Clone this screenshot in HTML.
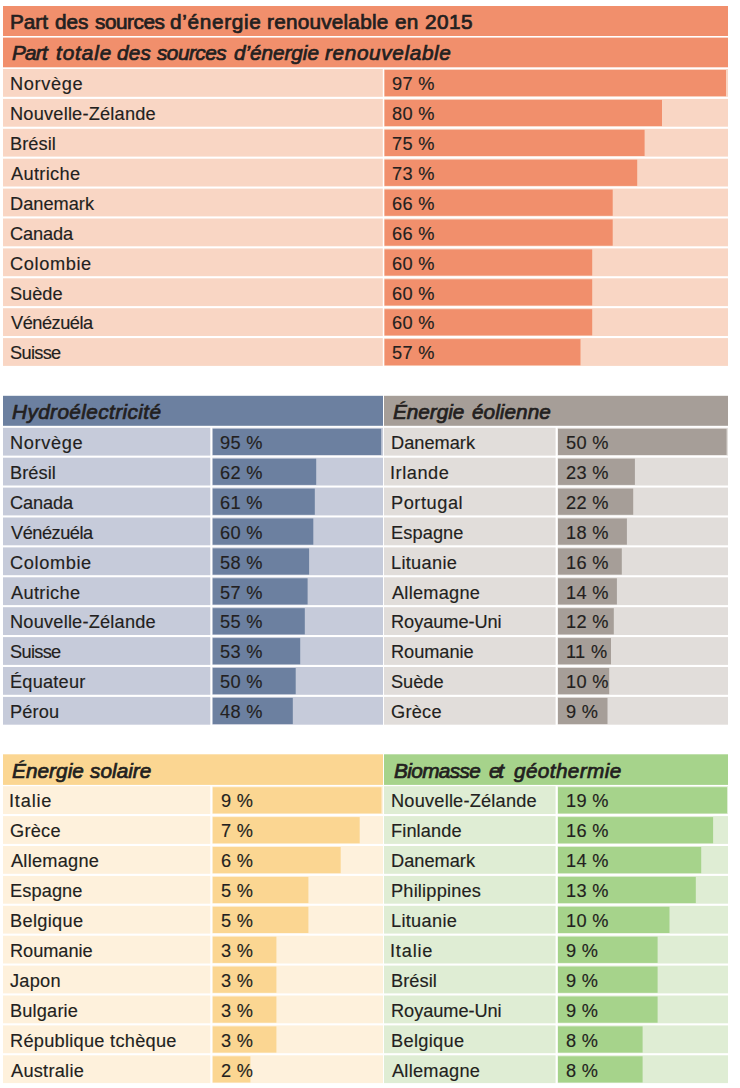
<!DOCTYPE html>
<html><head><meta charset="utf-8"><style>
html,body{margin:0;padding:0;background:#fff;width:740px;height:1088px;overflow:hidden}
body{position:relative;font-family:"Liberation Sans",sans-serif;color:#231F20}
div{position:absolute}
span{position:absolute;white-space:pre;line-height:0;height:0}
.h1{font-size:19.6px;-webkit-text-stroke:0.7px #231F20;transform:scaleX(1.06);transform-origin:0 0}
.h2{font-size:19.6px;font-style:italic;-webkit-text-stroke:0.7px #231F20;transform:scaleX(1.06);transform-origin:0 0}
.t{font-size:17.5px;-webkit-text-stroke:0.15px #231F20;transform:scaleX(1.04);transform-origin:0 0}
</style></head><body>
<svg width="740" height="1088" style="position:absolute;left:0;top:0">
<rect x="3.00" y="6.00" width="725.00" height="30.00" fill="#F18F6C"/>
<rect x="3.00" y="37.60" width="725.00" height="29.70" fill="#F18F6C"/>
<rect x="3.00" y="69.00" width="379.80" height="27.80" fill="#F9D6C4"/>
<rect x="384.20" y="69.00" width="343.80" height="27.80" fill="#F9D6C4"/>
<rect x="384.50" y="70.00" width="341.50" height="26.20" fill="#F18F6C"/>
<rect x="3.00" y="98.90" width="379.80" height="27.80" fill="#F9D6C4"/>
<rect x="384.20" y="98.90" width="343.80" height="27.80" fill="#F9D6C4"/>
<rect x="384.50" y="99.90" width="277.50" height="26.20" fill="#F18F6C"/>
<rect x="3.00" y="128.80" width="379.80" height="27.80" fill="#F9D6C4"/>
<rect x="384.20" y="128.80" width="343.80" height="27.80" fill="#F9D6C4"/>
<rect x="384.50" y="129.80" width="260.10" height="26.20" fill="#F18F6C"/>
<rect x="3.00" y="158.70" width="379.80" height="27.80" fill="#F9D6C4"/>
<rect x="384.20" y="158.70" width="343.80" height="27.80" fill="#F9D6C4"/>
<rect x="384.50" y="159.70" width="252.70" height="26.20" fill="#F18F6C"/>
<rect x="3.00" y="188.60" width="379.80" height="27.80" fill="#F9D6C4"/>
<rect x="384.20" y="188.60" width="343.80" height="27.80" fill="#F9D6C4"/>
<rect x="384.50" y="189.60" width="228.20" height="26.20" fill="#F18F6C"/>
<rect x="3.00" y="218.50" width="379.80" height="27.80" fill="#F9D6C4"/>
<rect x="384.20" y="218.50" width="343.80" height="27.80" fill="#F9D6C4"/>
<rect x="384.50" y="219.50" width="228.20" height="26.20" fill="#F18F6C"/>
<rect x="3.00" y="248.40" width="379.80" height="27.80" fill="#F9D6C4"/>
<rect x="384.20" y="248.40" width="343.80" height="27.80" fill="#F9D6C4"/>
<rect x="384.50" y="249.40" width="207.70" height="26.20" fill="#F18F6C"/>
<rect x="3.00" y="278.30" width="379.80" height="27.80" fill="#F9D6C4"/>
<rect x="384.20" y="278.30" width="343.80" height="27.80" fill="#F9D6C4"/>
<rect x="384.50" y="279.30" width="207.70" height="26.20" fill="#F18F6C"/>
<rect x="3.00" y="308.20" width="379.80" height="27.80" fill="#F9D6C4"/>
<rect x="384.20" y="308.20" width="343.80" height="27.80" fill="#F9D6C4"/>
<rect x="384.50" y="309.20" width="207.70" height="26.20" fill="#F18F6C"/>
<rect x="3.00" y="338.10" width="379.80" height="27.80" fill="#F9D6C4"/>
<rect x="384.20" y="338.10" width="343.80" height="27.80" fill="#F9D6C4"/>
<rect x="384.50" y="339.10" width="196.00" height="26.20" fill="#F18F6C"/>
<rect x="3.00" y="395.80" width="380.00" height="30.00" fill="#6C80A0"/>
<rect x="3.00" y="427.80" width="207.30" height="27.80" fill="#C6CBDA"/>
<rect x="212.30" y="427.80" width="170.70" height="27.80" fill="#C6CBDA"/>
<rect x="212.70" y="428.80" width="168.50" height="26.20" fill="#6C80A0"/>
<rect x="3.00" y="457.70" width="207.30" height="27.80" fill="#C6CBDA"/>
<rect x="212.30" y="457.70" width="170.70" height="27.80" fill="#C6CBDA"/>
<rect x="212.70" y="458.70" width="103.50" height="26.20" fill="#6C80A0"/>
<rect x="3.00" y="487.60" width="207.30" height="27.80" fill="#C6CBDA"/>
<rect x="212.30" y="487.60" width="170.70" height="27.80" fill="#C6CBDA"/>
<rect x="212.70" y="488.60" width="102.10" height="26.20" fill="#6C80A0"/>
<rect x="3.00" y="517.50" width="207.30" height="27.80" fill="#C6CBDA"/>
<rect x="212.30" y="517.50" width="170.70" height="27.80" fill="#C6CBDA"/>
<rect x="212.70" y="518.50" width="100.60" height="26.20" fill="#6C80A0"/>
<rect x="3.00" y="547.40" width="207.30" height="27.80" fill="#C6CBDA"/>
<rect x="212.30" y="547.40" width="170.70" height="27.80" fill="#C6CBDA"/>
<rect x="212.70" y="548.40" width="96.40" height="26.20" fill="#6C80A0"/>
<rect x="3.00" y="577.30" width="207.30" height="27.80" fill="#C6CBDA"/>
<rect x="212.30" y="577.30" width="170.70" height="27.80" fill="#C6CBDA"/>
<rect x="212.70" y="578.30" width="94.90" height="26.20" fill="#6C80A0"/>
<rect x="3.00" y="607.20" width="207.30" height="27.80" fill="#C6CBDA"/>
<rect x="212.30" y="607.20" width="170.70" height="27.80" fill="#C6CBDA"/>
<rect x="212.70" y="608.20" width="92.10" height="26.20" fill="#6C80A0"/>
<rect x="3.00" y="637.10" width="207.30" height="27.80" fill="#C6CBDA"/>
<rect x="212.30" y="637.10" width="170.70" height="27.80" fill="#C6CBDA"/>
<rect x="212.70" y="638.10" width="87.50" height="26.20" fill="#6C80A0"/>
<rect x="3.00" y="667.00" width="207.30" height="27.80" fill="#C6CBDA"/>
<rect x="212.30" y="667.00" width="170.70" height="27.80" fill="#C6CBDA"/>
<rect x="212.70" y="668.00" width="83.00" height="26.20" fill="#6C80A0"/>
<rect x="3.00" y="696.90" width="207.30" height="27.80" fill="#C6CBDA"/>
<rect x="212.30" y="696.90" width="170.70" height="27.80" fill="#C6CBDA"/>
<rect x="212.70" y="697.90" width="80.10" height="26.20" fill="#6C80A0"/>
<rect x="384.00" y="395.80" width="344.00" height="30.00" fill="#A69E98"/>
<rect x="384.00" y="427.80" width="171.60" height="27.80" fill="#E1DDDA"/>
<rect x="557.60" y="427.80" width="170.40" height="27.80" fill="#E1DDDA"/>
<rect x="558.00" y="428.80" width="168.60" height="26.20" fill="#A69E98"/>
<rect x="384.00" y="457.70" width="171.60" height="27.80" fill="#E1DDDA"/>
<rect x="557.60" y="457.70" width="170.40" height="27.80" fill="#E1DDDA"/>
<rect x="558.00" y="458.70" width="76.90" height="26.20" fill="#A69E98"/>
<rect x="384.00" y="487.60" width="171.60" height="27.80" fill="#E1DDDA"/>
<rect x="557.60" y="487.60" width="170.40" height="27.80" fill="#E1DDDA"/>
<rect x="558.00" y="488.60" width="75.20" height="26.20" fill="#A69E98"/>
<rect x="384.00" y="517.50" width="171.60" height="27.80" fill="#E1DDDA"/>
<rect x="557.60" y="517.50" width="170.40" height="27.80" fill="#E1DDDA"/>
<rect x="558.00" y="518.50" width="68.90" height="26.20" fill="#A69E98"/>
<rect x="384.00" y="547.40" width="171.60" height="27.80" fill="#E1DDDA"/>
<rect x="557.60" y="547.40" width="170.40" height="27.80" fill="#E1DDDA"/>
<rect x="558.00" y="548.40" width="63.80" height="26.20" fill="#A69E98"/>
<rect x="384.00" y="577.30" width="171.60" height="27.80" fill="#E1DDDA"/>
<rect x="557.60" y="577.30" width="170.40" height="27.80" fill="#E1DDDA"/>
<rect x="558.00" y="578.30" width="58.90" height="26.20" fill="#A69E98"/>
<rect x="384.00" y="607.20" width="171.60" height="27.80" fill="#E1DDDA"/>
<rect x="557.60" y="607.20" width="170.40" height="27.80" fill="#E1DDDA"/>
<rect x="558.00" y="608.20" width="55.80" height="26.20" fill="#A69E98"/>
<rect x="384.00" y="637.10" width="171.60" height="27.80" fill="#E1DDDA"/>
<rect x="557.60" y="637.10" width="170.40" height="27.80" fill="#E1DDDA"/>
<rect x="558.00" y="638.10" width="53.00" height="26.20" fill="#A69E98"/>
<rect x="384.00" y="667.00" width="171.60" height="27.80" fill="#E1DDDA"/>
<rect x="557.60" y="667.00" width="170.40" height="27.80" fill="#E1DDDA"/>
<rect x="558.00" y="668.00" width="51.20" height="26.20" fill="#A69E98"/>
<rect x="384.00" y="696.90" width="171.60" height="27.80" fill="#E1DDDA"/>
<rect x="557.60" y="696.90" width="170.40" height="27.80" fill="#E1DDDA"/>
<rect x="558.00" y="697.90" width="49.50" height="26.20" fill="#A69E98"/>
<rect x="3.00" y="754.30" width="380.00" height="30.60" fill="#FBD692"/>
<rect x="3.00" y="786.20" width="207.30" height="27.80" fill="#FEF1DC"/>
<rect x="212.30" y="786.20" width="170.70" height="27.80" fill="#FEF1DC"/>
<rect x="212.70" y="787.20" width="168.80" height="26.20" fill="#FBD692"/>
<rect x="3.00" y="816.10" width="207.30" height="27.80" fill="#FEF1DC"/>
<rect x="212.30" y="816.10" width="170.70" height="27.80" fill="#FEF1DC"/>
<rect x="212.70" y="817.10" width="147.00" height="26.20" fill="#FBD692"/>
<rect x="3.00" y="846.00" width="207.30" height="27.80" fill="#FEF1DC"/>
<rect x="212.30" y="846.00" width="170.70" height="27.80" fill="#FEF1DC"/>
<rect x="212.70" y="847.00" width="128.00" height="26.20" fill="#FBD692"/>
<rect x="3.00" y="875.90" width="207.30" height="27.80" fill="#FEF1DC"/>
<rect x="212.30" y="875.90" width="170.70" height="27.80" fill="#FEF1DC"/>
<rect x="212.70" y="876.90" width="95.70" height="26.20" fill="#FBD692"/>
<rect x="3.00" y="905.80" width="207.30" height="27.80" fill="#FEF1DC"/>
<rect x="212.30" y="905.80" width="170.70" height="27.80" fill="#FEF1DC"/>
<rect x="212.70" y="906.80" width="95.70" height="26.20" fill="#FBD692"/>
<rect x="3.00" y="935.70" width="207.30" height="27.80" fill="#FEF1DC"/>
<rect x="212.30" y="935.70" width="170.70" height="27.80" fill="#FEF1DC"/>
<rect x="212.70" y="936.70" width="63.70" height="26.20" fill="#FBD692"/>
<rect x="3.00" y="965.60" width="207.30" height="27.80" fill="#FEF1DC"/>
<rect x="212.30" y="965.60" width="170.70" height="27.80" fill="#FEF1DC"/>
<rect x="212.70" y="966.60" width="63.70" height="26.20" fill="#FBD692"/>
<rect x="3.00" y="995.50" width="207.30" height="27.80" fill="#FEF1DC"/>
<rect x="212.30" y="995.50" width="170.70" height="27.80" fill="#FEF1DC"/>
<rect x="212.70" y="996.50" width="63.70" height="26.20" fill="#FBD692"/>
<rect x="3.00" y="1025.40" width="207.30" height="27.80" fill="#FEF1DC"/>
<rect x="212.30" y="1025.40" width="170.70" height="27.80" fill="#FEF1DC"/>
<rect x="212.70" y="1026.40" width="63.70" height="26.20" fill="#FBD692"/>
<rect x="3.00" y="1055.30" width="207.30" height="27.80" fill="#FEF1DC"/>
<rect x="212.30" y="1055.30" width="170.70" height="27.80" fill="#FEF1DC"/>
<rect x="212.70" y="1056.30" width="37.70" height="26.20" fill="#FBD692"/>
<rect x="384.00" y="754.30" width="344.00" height="30.60" fill="#A6D38B"/>
<rect x="384.00" y="786.20" width="171.60" height="27.80" fill="#DFEDD4"/>
<rect x="557.60" y="786.20" width="170.40" height="27.80" fill="#DFEDD4"/>
<rect x="558.00" y="787.20" width="169.00" height="26.20" fill="#A6D38B"/>
<rect x="384.00" y="816.10" width="171.60" height="27.80" fill="#DFEDD4"/>
<rect x="557.60" y="816.10" width="170.40" height="27.80" fill="#DFEDD4"/>
<rect x="558.00" y="817.10" width="155.10" height="26.20" fill="#A6D38B"/>
<rect x="384.00" y="846.00" width="171.60" height="27.80" fill="#DFEDD4"/>
<rect x="557.60" y="846.00" width="170.40" height="27.80" fill="#DFEDD4"/>
<rect x="558.00" y="847.00" width="143.20" height="26.20" fill="#A6D38B"/>
<rect x="384.00" y="875.90" width="171.60" height="27.80" fill="#DFEDD4"/>
<rect x="557.60" y="875.90" width="170.40" height="27.80" fill="#DFEDD4"/>
<rect x="558.00" y="876.90" width="137.80" height="26.20" fill="#A6D38B"/>
<rect x="384.00" y="905.80" width="171.60" height="27.80" fill="#DFEDD4"/>
<rect x="557.60" y="905.80" width="170.40" height="27.80" fill="#DFEDD4"/>
<rect x="558.00" y="906.80" width="111.50" height="26.20" fill="#A6D38B"/>
<rect x="384.00" y="935.70" width="171.60" height="27.80" fill="#DFEDD4"/>
<rect x="557.60" y="935.70" width="170.40" height="27.80" fill="#DFEDD4"/>
<rect x="558.00" y="936.70" width="99.60" height="26.20" fill="#A6D38B"/>
<rect x="384.00" y="965.60" width="171.60" height="27.80" fill="#DFEDD4"/>
<rect x="557.60" y="965.60" width="170.40" height="27.80" fill="#DFEDD4"/>
<rect x="558.00" y="966.60" width="99.60" height="26.20" fill="#A6D38B"/>
<rect x="384.00" y="995.50" width="171.60" height="27.80" fill="#DFEDD4"/>
<rect x="557.60" y="995.50" width="170.40" height="27.80" fill="#DFEDD4"/>
<rect x="558.00" y="996.50" width="99.60" height="26.20" fill="#A6D38B"/>
<rect x="384.00" y="1025.40" width="171.60" height="27.80" fill="#DFEDD4"/>
<rect x="557.60" y="1025.40" width="170.40" height="27.80" fill="#DFEDD4"/>
<rect x="558.00" y="1026.40" width="84.60" height="26.20" fill="#A6D38B"/>
<rect x="384.00" y="1055.30" width="171.60" height="27.80" fill="#DFEDD4"/>
<rect x="557.60" y="1055.30" width="170.40" height="27.80" fill="#DFEDD4"/>
<rect x="558.00" y="1056.30" width="84.60" height="26.20" fill="#A6D38B"/>
</svg>
<span class="t" style="left:10.26px;top:84.24px;letter-spacing:0.609px">Norvège</span>
<span class="t" style="left:391.80px;top:84.24px;letter-spacing:0.3px">97 %</span>
<span class="t" style="left:10.26px;top:114.14px;letter-spacing:0.196px">Nouvelle-Zélande</span>
<span class="t" style="left:391.80px;top:114.14px;letter-spacing:0.3px">80 %</span>
<span class="t" style="left:10.26px;top:144.04px;letter-spacing:0.052px">Brésil</span>
<span class="t" style="left:391.80px;top:144.04px;letter-spacing:0.3px">75 %</span>
<span class="t" style="left:11.30px;top:173.94px;letter-spacing:0.321px">Autriche</span>
<span class="t" style="left:391.80px;top:173.94px;letter-spacing:0.3px">73 %</span>
<span class="t" style="left:10.26px;top:203.84px;letter-spacing:0.007px">Danemark</span>
<span class="t" style="left:391.80px;top:203.84px;letter-spacing:0.3px">66 %</span>
<span class="t" style="left:10.26px;top:233.74px;letter-spacing:-0.115px">Canada</span>
<span class="t" style="left:391.80px;top:233.74px;letter-spacing:0.3px">66 %</span>
<span class="t" style="left:10.26px;top:263.64px;letter-spacing:0.593px">Colombie</span>
<span class="t" style="left:391.80px;top:263.64px;letter-spacing:0.3px">60 %</span>
<span class="t" style="left:10.26px;top:293.54px;letter-spacing:-0.026px">Suède</span>
<span class="t" style="left:391.80px;top:293.54px;letter-spacing:0.3px">60 %</span>
<span class="t" style="left:11.30px;top:323.44px;letter-spacing:-0.459px">Vénézuéla</span>
<span class="t" style="left:391.80px;top:323.44px;letter-spacing:0.3px">60 %</span>
<span class="t" style="left:10.26px;top:353.34px;letter-spacing:-0.662px">Suisse</span>
<span class="t" style="left:391.80px;top:353.34px;letter-spacing:0.3px">57 %</span>
<span class="t" style="left:10.16px;top:443.04px;letter-spacing:0.609px">Norvège</span>
<span class="t" style="left:220.40px;top:443.04px;letter-spacing:0.3px">95 %</span>
<span class="t" style="left:10.16px;top:472.94px;letter-spacing:0.052px">Brésil</span>
<span class="t" style="left:220.40px;top:472.94px;letter-spacing:0.3px">62 %</span>
<span class="t" style="left:10.16px;top:502.84px;letter-spacing:-0.115px">Canada</span>
<span class="t" style="left:220.40px;top:502.84px;letter-spacing:0.3px">61 %</span>
<span class="t" style="left:11.20px;top:532.74px;letter-spacing:-0.459px">Vénézuéla</span>
<span class="t" style="left:220.40px;top:532.74px;letter-spacing:0.3px">60 %</span>
<span class="t" style="left:10.16px;top:562.64px;letter-spacing:0.593px">Colombie</span>
<span class="t" style="left:220.40px;top:562.64px;letter-spacing:0.3px">58 %</span>
<span class="t" style="left:11.20px;top:592.54px;letter-spacing:0.321px">Autriche</span>
<span class="t" style="left:220.40px;top:592.54px;letter-spacing:0.3px">57 %</span>
<span class="t" style="left:10.16px;top:622.44px;letter-spacing:0.196px">Nouvelle-Zélande</span>
<span class="t" style="left:220.40px;top:622.44px;letter-spacing:0.3px">55 %</span>
<span class="t" style="left:10.16px;top:652.34px;letter-spacing:-0.662px">Suisse</span>
<span class="t" style="left:220.40px;top:652.34px;letter-spacing:0.3px">53 %</span>
<span class="t" style="left:10.16px;top:682.24px;letter-spacing:0.192px">Équateur</span>
<span class="t" style="left:220.40px;top:682.24px;letter-spacing:0.3px">50 %</span>
<span class="t" style="left:10.16px;top:712.14px;letter-spacing:0.144px">Pérou</span>
<span class="t" style="left:220.40px;top:712.14px;letter-spacing:0.3px">48 %</span>
<span class="t" style="left:391.16px;top:443.04px;letter-spacing:0.007px">Danemark</span>
<span class="t" style="left:565.70px;top:443.04px;letter-spacing:0.3px">50 %</span>
<span class="t" style="left:390.12px;top:472.94px;letter-spacing:0.506px">Irlande</span>
<span class="t" style="left:565.70px;top:472.94px;letter-spacing:0.3px">23 %</span>
<span class="t" style="left:391.16px;top:502.84px;letter-spacing:0.533px">Portugal</span>
<span class="t" style="left:565.70px;top:502.84px;letter-spacing:0.3px">22 %</span>
<span class="t" style="left:391.16px;top:532.74px;letter-spacing:0.099px">Espagne</span>
<span class="t" style="left:565.70px;top:532.74px;letter-spacing:0.3px">18 %</span>
<span class="t" style="left:391.16px;top:562.64px;letter-spacing:0.288px">Lituanie</span>
<span class="t" style="left:565.70px;top:562.64px;letter-spacing:0.3px">16 %</span>
<span class="t" style="left:392.20px;top:592.54px;letter-spacing:0.225px">Allemagne</span>
<span class="t" style="left:565.70px;top:592.54px;letter-spacing:0.3px">14 %</span>
<span class="t" style="left:391.16px;top:622.44px;letter-spacing:-0.058px">Royaume-Uni</span>
<span class="t" style="left:565.70px;top:622.44px;letter-spacing:0.3px">12 %</span>
<span class="t" style="left:391.16px;top:652.34px;letter-spacing:-0.051px">Roumanie</span>
<span class="t" style="left:565.70px;top:652.34px;letter-spacing:0.3px">11 %</span>
<span class="t" style="left:391.16px;top:682.24px;letter-spacing:-0.026px">Suède</span>
<span class="t" style="left:565.70px;top:682.24px;letter-spacing:0.3px">10 %</span>
<span class="t" style="left:391.16px;top:712.14px;letter-spacing:0.231px">Grèce</span>
<span class="t" style="left:565.70px;top:712.14px;letter-spacing:0.3px">9 %</span>
<span class="t" style="left:9.12px;top:801.44px;letter-spacing:0.777px">Italie</span>
<span class="t" style="left:220.80px;top:801.44px;letter-spacing:0.3px">9 %</span>
<span class="t" style="left:10.16px;top:831.34px;letter-spacing:0.231px">Grèce</span>
<span class="t" style="left:220.80px;top:831.34px;letter-spacing:0.3px">7 %</span>
<span class="t" style="left:11.20px;top:861.24px;letter-spacing:0.225px">Allemagne</span>
<span class="t" style="left:220.80px;top:861.24px;letter-spacing:0.3px">6 %</span>
<span class="t" style="left:10.16px;top:891.14px;letter-spacing:0.099px">Espagne</span>
<span class="t" style="left:220.80px;top:891.14px;letter-spacing:0.3px">5 %</span>
<span class="t" style="left:10.16px;top:921.04px;letter-spacing:0.312px">Belgique</span>
<span class="t" style="left:220.80px;top:921.04px;letter-spacing:0.3px">5 %</span>
<span class="t" style="left:10.16px;top:950.94px;letter-spacing:-0.051px">Roumanie</span>
<span class="t" style="left:220.80px;top:950.94px;letter-spacing:0.3px">3 %</span>
<span class="t" style="left:10.16px;top:980.84px;letter-spacing:0.231px">Japon</span>
<span class="t" style="left:220.80px;top:980.84px;letter-spacing:0.3px">3 %</span>
<span class="t" style="left:10.16px;top:1010.74px;letter-spacing:0.162px">Bulgarie</span>
<span class="t" style="left:220.80px;top:1010.74px;letter-spacing:0.3px">3 %</span>
<span class="t" style="left:10.16px;top:1040.64px;letter-spacing:0.257px">République tchèque</span>
<span class="t" style="left:220.80px;top:1040.64px;letter-spacing:0.3px">3 %</span>
<span class="t" style="left:11.20px;top:1070.54px;letter-spacing:0.243px">Australie</span>
<span class="t" style="left:220.80px;top:1070.54px;letter-spacing:0.3px">2 %</span>
<span class="t" style="left:391.16px;top:801.44px;letter-spacing:0.196px">Nouvelle-Zélande</span>
<span class="t" style="left:565.60px;top:801.44px;letter-spacing:0.3px">19 %</span>
<span class="t" style="left:391.16px;top:831.34px;letter-spacing:0.104px">Finlande</span>
<span class="t" style="left:565.60px;top:831.34px;letter-spacing:0.3px">16 %</span>
<span class="t" style="left:391.16px;top:861.24px;letter-spacing:0.007px">Danemark</span>
<span class="t" style="left:565.60px;top:861.24px;letter-spacing:0.3px">14 %</span>
<span class="t" style="left:391.16px;top:891.14px;letter-spacing:0.181px">Philippines</span>
<span class="t" style="left:565.60px;top:891.14px;letter-spacing:0.3px">13 %</span>
<span class="t" style="left:391.16px;top:921.04px;letter-spacing:0.288px">Lituanie</span>
<span class="t" style="left:565.60px;top:921.04px;letter-spacing:0.3px">10 %</span>
<span class="t" style="left:390.12px;top:950.94px;letter-spacing:0.777px">Italie</span>
<span class="t" style="left:565.60px;top:950.94px;letter-spacing:0.3px">9 %</span>
<span class="t" style="left:391.16px;top:980.84px;letter-spacing:0.052px">Brésil</span>
<span class="t" style="left:565.60px;top:980.84px;letter-spacing:0.3px">9 %</span>
<span class="t" style="left:391.16px;top:1010.74px;letter-spacing:-0.058px">Royaume-Uni</span>
<span class="t" style="left:565.60px;top:1010.74px;letter-spacing:0.3px">9 %</span>
<span class="t" style="left:391.16px;top:1040.64px;letter-spacing:0.312px">Belgique</span>
<span class="t" style="left:565.60px;top:1040.64px;letter-spacing:0.3px">8 %</span>
<span class="t" style="left:392.20px;top:1070.54px;letter-spacing:0.225px">Allemagne</span>
<span class="t" style="left:565.60px;top:1070.54px;letter-spacing:0.3px">8 %</span>
<span class="h1" style="left:10.24px;top:22.01px;letter-spacing:-0.031px">Part</span>
<span class="h1" style="left:54.84px;top:22.01px;letter-spacing:-0.094px">des</span>
<span class="h1" style="left:94.80px;top:22.01px;letter-spacing:-0.437px">sources</span>
<span class="h1" style="left:170.44px;top:22.01px;letter-spacing:0.644px">d’énergie</span>
<span class="h1" style="left:267.34px;top:22.01px;letter-spacing:0.201px">renouvelable</span>
<span class="h1" style="left:394.94px;top:22.01px;letter-spacing:0.283px">en</span>
<span class="h1" style="left:424.54px;top:22.01px;letter-spacing:0.434px">2015</span>
<span class="h2" style="left:11.70px;top:53.21px;letter-spacing:-0.730px">Part</span>
<span class="h2" style="left:55.64px;top:53.21px;letter-spacing:0.845px">totale</span>
<span class="h2" style="left:116.70px;top:53.21px;letter-spacing:0.208px">des</span>
<span class="h2" style="left:157.30px;top:53.21px;letter-spacing:-0.500px">sources</span>
<span class="h2" style="left:233.50px;top:53.21px;letter-spacing:-0.059px">d’énergie</span>
<span class="h2" style="left:325.10px;top:53.21px;letter-spacing:0.599px">renouvelable</span>
<span class="h2" style="left:12.00px;top:412.01px;letter-spacing:0.371px">Hydroélectricité</span>
<span class="h2" style="left:393.40px;top:412.01px;letter-spacing:-0.035px">Énergie</span>
<span class="h2" style="left:471.50px;top:412.01px;letter-spacing:0.035px">éolienne</span>
<span class="h2" style="left:11.90px;top:770.51px;letter-spacing:0.044px">Énergie</span>
<span class="h2" style="left:89.70px;top:770.51px;letter-spacing:0.028px">solaire</span>
<span class="h2" style="left:393.50px;top:770.51px;letter-spacing:-0.588px">Biomasse</span>
<span class="h2" style="left:488.70px;top:770.51px;letter-spacing:-2.057px">et</span>
<span class="h2" style="left:514.00px;top:770.51px;letter-spacing:0.358px">géothermie</span>
</body></html>
